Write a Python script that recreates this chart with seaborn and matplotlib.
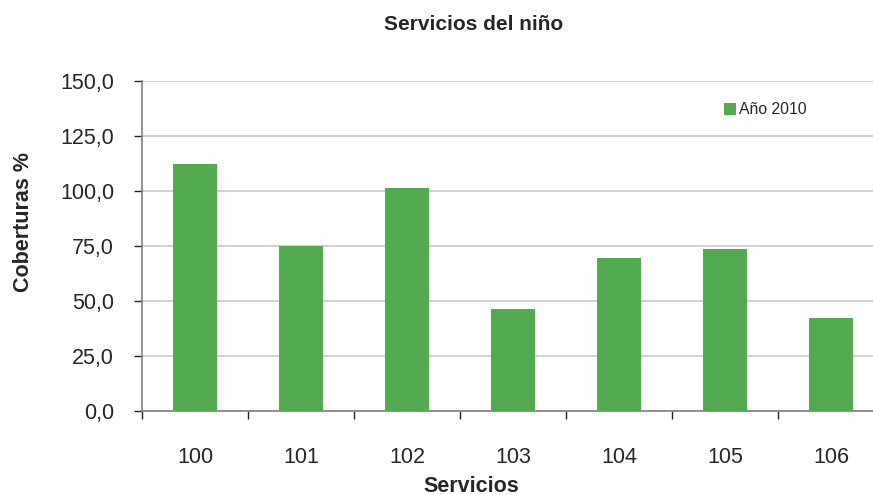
import matplotlib
matplotlib.use('Agg')
import matplotlib.pyplot as plt
import seaborn as sns
import pandas as pd

sns.set_style('white')
plt.rcParams['font.family'] = ['Liberation Sans', 'DejaVu Sans']

# Data
servicios = ['100', '101', '102', '103', '104', '105', '106']
coberturas = [112.3, 75.0, 101.4, 46.4, 69.5, 73.6, 42.3]
serie = 'Año 2010'

df = pd.DataFrame({'Servicios': servicios, 'Coberturas': coberturas})

fig = plt.figure(figsize=(8.73, 4.95), dpi=100)
ax = fig.add_axes([142 / 873, 84 / 495, 742 / 873, 330 / 495])

sns.barplot(data=df, x='Servicios', y='Coberturas', color='#52AC4F',
            saturation=1, width=0.41, label=serie, linewidth=0,
            ax=ax, zorder=3)

ax.set_ylim(0, 150)
ax.set_xlim(-0.5, len(servicios) - 0.5)
ax.set_yticks(range(0, 151, 25))
ax.set_yticklabels([f'{v:.1f}'.replace('.', ',') for v in range(0, 151, 25)],
                   fontsize=15.5)
ax.yaxis.grid(True, color='#C8C8C8', linewidth=1.2, zorder=0)
ax.set_axisbelow(True)

# x ticks between categories, labels at centres
ax.set_xticks([i - 0.5 for i in range(len(servicios))], minor=False)
ax.set_xticklabels([])
ax.set_xticks(range(len(servicios)), minor=True)
ax.set_xticklabels(servicios, minor=True, fontsize=15.5)
ax.tick_params(axis='x', which='major', length=6, width=1, color='#222222',
               direction='out', bottom=True)
ax.tick_params(axis='x', which='minor', length=0, pad=26)
ax.tick_params(axis='y', length=6, width=1, color='#222222', direction='out',
               left=True, pad=14)

for side in ['top', 'right']:
    ax.spines[side].set_visible(False)
for side in ['left', 'bottom']:
    ax.spines[side].set_color('#808080')
    ax.spines[side].set_linewidth(1.2)

ax.set_xlabel('Servicios', fontsize=15.5, fontweight='bold')
ax.xaxis.set_label_coords((471 - 142) / 742, -0.196)
ax.set_ylabel('Coberturas %', fontsize=15.5, fontweight='bold')
ax.yaxis.set_label_coords((34 - 142) / 742, 0.573)

fig.text(474 / 873, 1 - 24 / 495, 'Servicios del niño', ha='center', va='center',
         fontsize=15, fontweight='bold')

leg = ax.legend(loc='upper left', bbox_to_anchor=((710 - 142) / 742, 0.978),
                frameon=False, fontsize=11.3, handlelength=0.75, handleheight=0.75,
                handletextpad=0.2)

fig.savefig('out.png', dpi=100)
